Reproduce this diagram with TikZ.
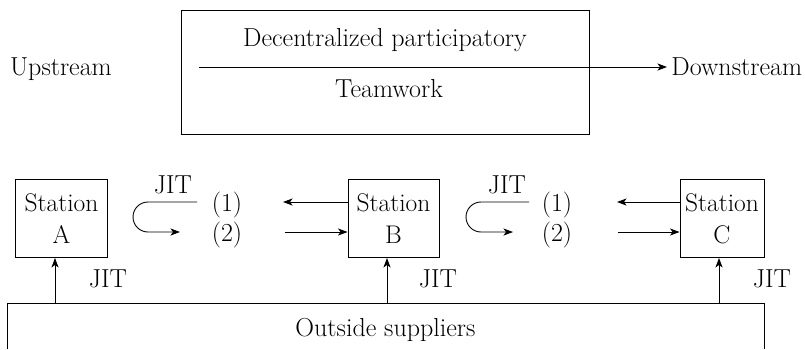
\documentclass[tikz,border=0pt]{standalone}
\usetikzlibrary{arrows.meta}
\begin{document}
\begin{tikzpicture}[x=1pt,y=-1pt,line width=0.9pt,
  txt/.style={font=\fontsize{26}{32}\selectfont,inner sep=0pt,anchor=base},
  arr/.style={-{Stealth[length=9.5pt,width=7pt,inset=2.5pt]}},
  stationbox/.style={draw,minimum height=78pt,inner sep=0pt,align=center,
    font=\fontsize{25.5}{32}\selectfont},
  uturn/.style={arr,rounded corners=15pt}]
\useasboundingbox (0,0) rectangle (805,349);

% upper panel: management frame with the flow from upstream to downstream
\node[draw,minimum width=408pt,minimum height=124pt,inner sep=0pt] (frame) at (385.5,72) {};
\node[txt] (up) at (61,75) {Upstream};
\node[txt,anchor=base west] (down) at (671,75) {Downstream};
\node[txt] (dec) at (385,46) {Decentralized participatory};
\node[txt] (team) at (389,97) {Teamwork};
\coordinate (flowstart) at (199,67);
\coordinate (flowend) at (667,67);
\draw[arr] (flowstart) -- (flowend);

% stations
\node[stationbox,minimum width=92pt] (A) at (61.5,218.5) {Station\\A};
\node[stationbox,minimum width=91pt] (B) at (393.5,218.5) {Station\\B};
\node[stationbox,minimum width=84pt] (C) at (722,218.5) {Station\\C};

% outside suppliers, open at the bottom
\node[minimum width=756pt,minimum height=45pt,inner sep=0pt] (sup) at (386,326.5) {};
\draw (sup.south west) -- (sup.north west) -- (sup.north east) -- (sup.south east);
\node[txt] (suptxt) at (385.5,336) {Outside suppliers};

% supply arrows into each station
\draw[arr] ([xshift=-6.5pt]A.south |- sup.north) -- ([xshift=-6.5pt]A.south);
\draw[arr] ([xshift=-6.5pt]B.south |- sup.north) -- ([xshift=-6.5pt]B.south);
\draw[arr] ([xshift=-3pt]C.south |- sup.north) -- ([xshift=-3pt]C.south);
\node[txt] (jA) at (108,287) {JIT};
\node[txt] (jB) at (438,287) {JIT};
\node[txt] (jC) at (772,287) {JIT};

% pull/push loop between A and B
\node[txt] (jAB) at (173,193) {JIT};
\node[txt] (oneAB) at (227,211) {(1)};
\node[txt] (twoAB) at (227,241) {(2)};
\coordinate (uAB1) at (197,202);
\coordinate (uAB2) at (180,232);
\draw[uturn] (uAB1) -- (133,202) -- (133,232) -- (uAB2);
\coordinate (lAB) at (283,202);
\coordinate (rAB) at (285,232);
\draw[arr] (B.west |- lAB) -- (lAB);
\draw[arr] (rAB) -- (B.west |- rAB);

% pull/push loop between B and C
\node[txt] (jBC) at (507,193) {JIT};
\node[txt] (oneBC) at (557,211) {(1)};
\node[txt] (twoBC) at (557,241) {(2)};
\coordinate (uBC1) at (529,202);
\coordinate (uBC2) at (513,232);
\draw[uturn] (uBC1) -- (466,202) -- (466,232) -- (uBC2);
\coordinate (lBC) at (617,202);
\coordinate (rBC) at (618,232);
\draw[arr] (C.west |- lBC) -- (lBC);
\draw[arr] (rBC) -- (C.west |- rBC);
\end{tikzpicture}
\end{document}
